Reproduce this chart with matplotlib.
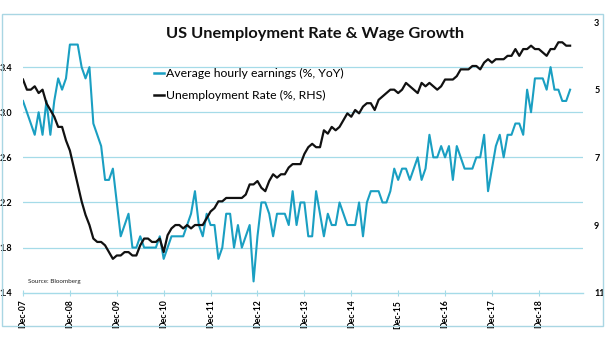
import numpy as np
import matplotlib.pyplot as plt
from matplotlib.patches import Rectangle
from matplotlib.lines import Line2D

plt.rcParams['font.family'] = ['Lato', 'DejaVu Sans']

tick_labels = ['Dec-07', 'Dec-08', 'Dec-09', 'Dec-10', 'Dec-11', 'Dec-12',
               'Dec-13', 'Dec-14', 'Dec-15', 'Dec-16', 'Dec-17', 'Dec-18']

# average hourly earnings, % YoY (monthly)
wage_growth = [
    3.1, 3.0, 2.9, 2.8, 3.0, 2.8, 3.1, 2.8, 3.1, 3.3, 3.2, 3.3,
    3.6, 3.6, 3.6, 3.4, 3.3, 3.4, 2.9, 2.8, 2.7, 2.4, 2.4, 2.5,
    2.2, 1.9, 2.0, 2.1, 1.8, 1.8, 1.9, 1.8, 1.8, 1.8, 1.8, 1.9,
    1.7, 1.8, 1.9, 1.9, 1.9, 1.9, 2.0, 2.1, 2.3, 2.0, 1.9, 2.1,
    2.0, 2.0, 1.7, 1.8, 2.1, 2.1, 1.8, 2.0, 1.8, 1.9, 2.0, 1.5,
    1.9, 2.2, 2.2, 2.1, 1.9, 2.1, 2.1, 2.1, 2.0, 2.3, 2.0, 2.2,
    2.2, 1.9, 1.9, 2.3, 2.1, 1.9, 2.1, 2.0, 2.0, 2.2, 2.1, 2.0,
    2.0, 2.0, 2.2, 1.9, 2.2, 2.3, 2.3, 2.3, 2.2, 2.2, 2.3, 2.5,
    2.4, 2.5, 2.5, 2.4, 2.5, 2.6, 2.4, 2.5, 2.8, 2.6, 2.6, 2.7,
    2.6, 2.7, 2.4, 2.7, 2.6, 2.5, 2.5, 2.5, 2.6, 2.6, 2.8, 2.3,
    2.5, 2.7, 2.8, 2.6, 2.8, 2.8, 2.9, 2.9, 2.8, 3.2, 3.0, 3.3,
    3.3, 3.3, 3.2, 3.4, 3.2, 3.2, 3.1, 3.1, 3.2,
]

# unemployment rate, % (monthly, right-hand scale)
unemployment = [
    4.7, 5.0, 5.0, 4.9, 5.1, 5.0, 5.4, 5.6, 5.8, 6.1, 6.1, 6.5,
    6.8, 7.3, 7.8, 8.3, 8.7, 9.0, 9.4, 9.5, 9.5, 9.6, 9.8, 10.0,
    9.9, 9.9, 9.8, 9.8, 9.9, 9.9, 9.6, 9.4, 9.4, 9.5, 9.5, 9.4,
    9.8, 9.3, 9.1, 9.0, 9.0, 9.1, 9.0, 9.1, 9.0, 9.0, 9.0, 8.8,
    8.6, 8.5, 8.3, 8.3, 8.2, 8.2, 8.2, 8.2, 8.2, 8.1, 7.8, 7.8,
    7.7, 7.9, 8.0, 7.7, 7.5, 7.6, 7.5, 7.5, 7.3, 7.2, 7.2, 7.2,
    6.9, 6.7, 6.6, 6.7, 6.7, 6.2, 6.3, 6.1, 6.2, 6.1, 5.9, 5.7,
    5.8, 5.6, 5.7, 5.5, 5.4, 5.4, 5.6, 5.3, 5.2, 5.1, 5.0, 5.0,
    5.1, 5.0, 4.8, 4.9, 5.0, 5.1, 4.8, 4.9, 4.8, 4.9, 5.0, 4.9,
    4.7, 4.7, 4.7, 4.6, 4.4, 4.4, 4.4, 4.3, 4.3, 4.4, 4.2, 4.1,
    4.2, 4.1, 4.1, 4.1, 4.0, 4.0, 3.8, 4.0, 3.8, 3.8, 3.7, 3.8,
    3.8, 3.9, 4.0, 3.8, 3.8, 3.6, 3.6, 3.7, 3.7,
]

months = np.arange(len(wage_growth))

cyan = '#1a9fc2'
grid_blue = '#a5dbe8'

W, H = 605, 341
fig = plt.figure(figsize=(W / 100, H / 100), dpi=100)

# outer frame
fig.patches.append(Rectangle((2 / W, 1 - 325.5 / H), 601 / W, 312 / H,
                             transform=fig.transFigure, fill=False,
                             edgecolor='#a9d6e3', linewidth=1.0))

ax = fig.add_axes([23 / W, 1 - 292.7 / H, 560 / W, 270.7 / H])
ax.plot(months, wage_growth, color=cyan, lw=1.5)
ax.set_xlim(0, 143.3)
ax.set_ylim(1.4, 3.8)
left_ticks = [1.4, 1.8, 2.2, 2.6, 3.0, 3.4]
ax.set_yticks(left_ticks)
ax.set_yticklabels([f'{v:.1f}' for v in left_ticks], fontsize=6.5, fontweight='bold')
for v in left_ticks[1:]:
    ax.axhline(v, color=grid_blue, lw=0.9, zorder=0)

ax.set_xticks(np.arange(0, 12 * len(tick_labels), 12))
ax.set_xticklabels(tick_labels, rotation=90, fontsize=6.2, fontweight='bold')
ax.tick_params(axis='x', direction='inout', length=4, width=0.8,
               color=grid_blue, pad=3)
ax.tick_params(axis='y', length=0, pad=8)
for side in ['left', 'right', 'top']:
    ax.spines[side].set_visible(False)
ax.spines['bottom'].set_color(grid_blue)
ax.spines['bottom'].set_linewidth(1.0)

ax2 = ax.twinx()
ax2.plot(months, unemployment, color='#111111', lw=1.6)
ax2.set_ylim(11, 3)
ax2.set_yticks([3, 5, 7, 9, 11])
ax2.set_yticklabels(['3', '5', '7', '9', '11'], fontsize=6.5, fontweight='bold')
ax2.tick_params(axis='y', length=0, pad=8)
for side in ['left', 'right', 'top', 'bottom']:
    ax2.spines[side].set_visible(False)

handles = [Line2D([], [], color=cyan, lw=1.8),
           Line2D([], [], color='#111111', lw=1.8)]
ax2.legend(handles, ['Average hourly earnings (%, YoY)', 'Unemployment Rate (%, RHS)'],
           loc='upper left', bbox_to_anchor=((154 - 23) / 560, 1 - (68 - 22) / 270.7),
           frameon=False, fontsize=8.8, handlelength=0.85, handletextpad=0.15,
           borderpad=0, borderaxespad=0, labelspacing=0.9)

fig.text(315 / W, 1 - 34 / H, 'US Unemployment Rate & Wage Growth',
         ha='center', va='center', fontsize=11.8, fontweight='bold', color='#111111')
fig.text(28 / W, 1 - 282 / H, 'Source: Bloomberg', ha='left', va='center',
         fontsize=4.5, color='#222222')

fig.savefig('out.png', dpi=100)
